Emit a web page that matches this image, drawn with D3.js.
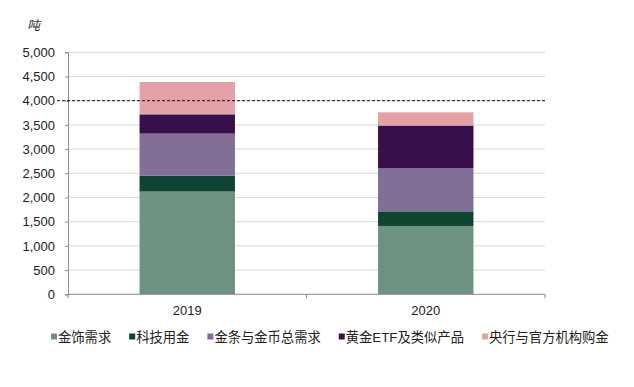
<!DOCTYPE html>
<html><head><meta charset="utf-8">
<script src="https://cdn.jsdelivr.net/npm/d3@7"></script>
<style>body{margin:0;background:#fff}svg{display:block}text{font-family:"Liberation Sans","Noto Sans CJK SC",sans-serif}</style>
</head><body><svg id="c" width="634" height="387"></svg>
<script>
const years = ["2019", "2020"];
const seriesNames = ["金饰需求", "科技用金", "金条与金币总需求", "黄金ETF及类似产品", "央行与官方机构购金"];
const jewelry = [2123, 1412];
const technology = [326, 302];
const barCoin = [871, 896];
const etf = [398, 877];
const centralBanks = [668, 273];
const yTicks = [0, 500, 1000, 1500, 2000, 2500, 3000, 3500, 4000, 4500, 5000];
const refLine = 4000;
const colors = ["#6d9282", "#0e4530", "#826e98", "#370f4d", "#e5a1a8"];

const svg = d3.select("#c");
const m = {l: 68, r: 545, t: 52.3, b: 294.3};
const x = d3.scaleBand().domain(years).range([m.l, m.r]).paddingInner(0.6).paddingOuter(0.3);
const y = d3.scaleLinear().domain([0, 5000]).range([m.b, m.t]);

const seriesVals = [jewelry, technology, barCoin, etf, centralBanks];
const table = years.map((yr, i) => {
  const o = {year: yr};
  seriesNames.forEach((s, k) => o[s] = seriesVals[k][i]);
  return o;
});
const stacked = d3.stack().keys(seriesNames)(table);

// gridlines
svg.append("g").selectAll("line").data(yTicks.slice(1)).join("line")
  .attr("x1", m.l).attr("x2", m.r).attr("y1", d => y(d)).attr("y2", d => y(d))
  .attr("stroke", "#d9d9d9").attr("stroke-width", 1);

// bars
svg.append("g").selectAll("g").data(stacked).join("g")
  .attr("fill", (d, i) => colors[i])
  .selectAll("rect").data(d => d).join("rect")
  .attr("x", d => x(d.data.year)).attr("width", x.bandwidth())
  .attr("y", d => y(d[1])).attr("height", d => y(d[0]) - y(d[1]));

// y axis
const ya = svg.append("g").attr("transform", `translate(${m.l},0)`)
  .call(d3.axisLeft(y).tickValues(yTicks).tickFormat(d3.format(",")).tickSize(3).tickPadding(10));
ya.select(".domain").attr("stroke", "#8c8c8c");
ya.selectAll(".tick line").attr("stroke", "#8c8c8c");
ya.selectAll("text").attr("font-size", 13).attr("fill", "#222");

// x axis
const xa = svg.append("g").attr("transform", `translate(0,${m.b})`);
xa.append("line").attr("x1", m.l).attr("x2", m.r).attr("stroke", "#8c8c8c");
const bounds = [m.l, (m.l + m.r) / 2, m.r];
xa.selectAll(".tk").data(bounds).join("line").attr("class", "tk")
  .attr("x1", d => d).attr("x2", d => d).attr("y1", 0).attr("y2", 4).attr("stroke", "#8c8c8c");
xa.selectAll("text").data(years).join("text")
  .attr("x", d => x(d) + x.bandwidth() / 2).attr("y", 21)
  .attr("text-anchor", "middle").attr("font-size", 13).attr("fill", "#222").text(d => d);

// reference dashed line
svg.append("line").attr("x1", 57).attr("x2", m.r + 1)
  .attr("y1", y(refLine)).attr("y2", y(refLine))
  .attr("stroke", "#111").attr("stroke-width", 1).attr("stroke-dasharray", "3,2");

// unit label
svg.append("text").attr("x", 27).attr("y", 30).attr("font-size", 13)
  .attr("font-style", "italic").attr("fill", "#333")
  .attr("font-family", "'Noto Sans CJK SC',sans-serif").text("吨");

// legend
const lg = svg.append("g");
let lx = 51;
const ly = 337;
seriesNames.forEach((s, i) => {
  lg.append("rect").attr("x", lx).attr("y", ly - 3.5).attr("width", 6).attr("height", 6).attr("fill", colors[i]);
  const t = lg.append("text").attr("x", lx + 7).attr("y", ly + 5).attr("font-size", 13.3)
    .attr("fill", "#222").attr("font-family", "'Noto Sans CJK SC',sans-serif").text(s);
  lx += 7 + t.node().getComputedTextLength() + 18;
});
</script></body></html>
